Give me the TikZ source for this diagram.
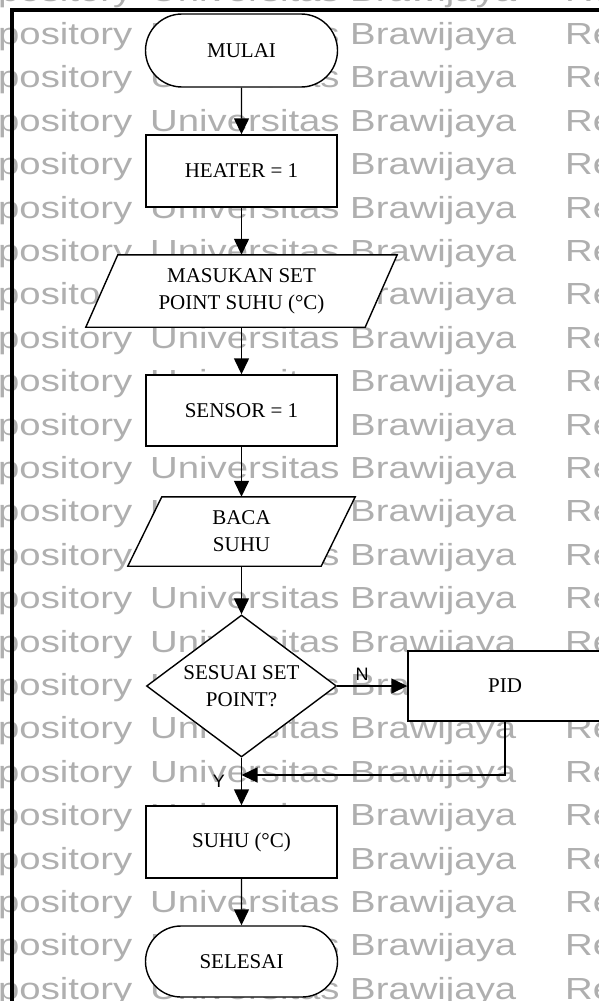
\documentclass[tikz,border=0pt]{standalone}
\usepackage{fontspec}
\setmainfont{Liberation Serif}
\newfontfamily\wmfont{Liberation Sans}
\newfontfamily\lblfont{Liberation Sans}
\usepackage{graphicx}
\usetikzlibrary{arrows.meta,shapes.geometric,shapes.misc,calc}
\pgfdeclarelayer{wm}
\pgfdeclarelayer{bg}
\pgfsetlayers{wm,bg,main}
\definecolor{wmgray}{RGB}{175,175,175}
\begin{document}
\begin{tikzpicture}[x=1pt,y=-1pt,
  base/.style={draw=black, line width=1.4pt, fill=white, font=\fontsize{21}{27}\selectfont, align=center, inner sep=0pt},
  term/.style={base, rounded rectangle, minimum width=192pt, minimum height=73pt},
  proc/.style={base, rectangle, minimum width=191pt, minimum height=72pt},
  iotext/.style={font=\fontsize{21}{27}\selectfont, align=center, inner sep=0pt, draw=none},
  iobox/.style={line width=1.4pt, draw=black, fill=white},
  decis/.style={base, diamond, shape aspect=1.357, minimum width=190pt, minimum height=142pt},
  arr/.style={line width=1.4pt, -{Triangle[length=16pt,width=15pt]}},
  lbl/.style={font=\lblfont\fontsize{18}{20}\selectfont, inner sep=0pt},
  wmtext/.style={font=\wmfont\fontsize{30.5}{32}\selectfont, text=wmgray, anchor=base west, inner sep=0pt},
  frameline/.style={line width=4pt, line cap=rect}
]
\useasboundingbox (0,0) rectangle (598,1001);

% watermark
\begin{pgfonlayer}{wm}
\begin{scope}
\clip (0,0) rectangle (598,1001);
\foreach \k in {-1,...,22} {
  \node[wmtext] (wa\k) at (-51,{44.5+43.4*\k}) {\scalebox{1.256}[1]{Repository}};
  \node[wmtext] (wu\k) at (150,{44.5+43.4*\k}) {\scalebox{1.256}[1]{Universitas}};
  \node[wmtext] (wc\k) at (350,{44.5+43.4*\k}) {\scalebox{1.256}[1]{Brawijaya}};
  \node[wmtext] (wb\k) at (565,{44.5+43.4*\k}) {\scalebox{1.256}[1]{Repository}};
}
\end{scope}
\end{pgfonlayer}

% frame
\draw[frameline] (12,10) -- (600,10);
\draw[frameline] (12,10) -- (12,1003);

% nodes
\node[term] (mulai) at (241.5,50.5) {MULAI};
\node[proc] (heater) at (241.5,171) {HEATER = 1};
\node[iotext, minimum width=311pt, minimum height=72pt] (in1) at (241.5,291) {MASUKAN SET\\POINT SUHU (°C)};
\node[proc, minimum height=71pt] (sensor) at (241.5,410.5) {SENSOR = 1};
\node[iotext, minimum width=227pt, minimum height=69pt] (baca) at (241.5,531.5) {BACA\\SUHU};
\node[decis] (dec) at (241.5,686) {SESUAI SET\\POINT?};
\node[proc, minimum width=194pt, minimum height=70pt] (pid) at (505,686) {PID};
\node[proc] (suhu) at (241.5,842) {SUHU (°C)};
\node[term, minimum height=71pt] (selesai) at (241.5,961.5) {SELESAI};

\begin{pgfonlayer}{bg}
\draw[iobox] ([xshift=32pt]in1.north west) -- (in1.north east) -- ([xshift=-32pt]in1.south east) -- (in1.south west) -- cycle;
\draw[iobox] ([xshift=34pt]baca.north west) -- (baca.north east) -- ([xshift=-34pt]baca.south east) -- (baca.south west) -- cycle;
\end{pgfonlayer}

% labels
\node[lbl] (nlab) at (362,674) {N};
\node[lbl] (ylab) at (219,781) {Y};

% connectors
\coordinate (join) at (241.5,775);
\draw[arr] (mulai) -- (heater);
\draw[arr] (heater) -- (in1);
\draw[arr] (in1) -- (sensor);
\draw[arr] (sensor) -- (baca);
\draw[arr] (baca) -- (dec);
\draw[arr] (dec.east) -- (pid.west);
\draw[arr] (dec.south) -- (suhu.north);
\draw[arr] (pid.south) |- (join);
\draw[arr] (suhu) -- (selesai);
\end{tikzpicture}
\end{document}
